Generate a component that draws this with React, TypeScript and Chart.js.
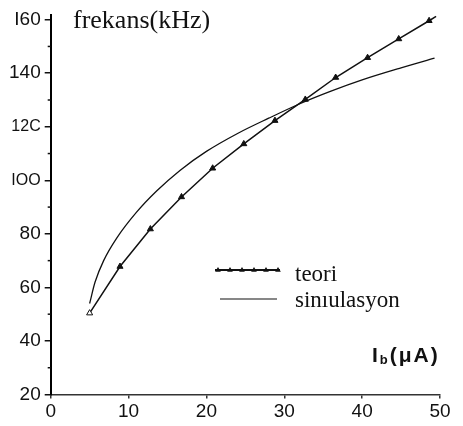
import React, { useEffect, useRef } from "react";
import { Chart, registerables } from "chart.js";

Chart.register(...registerables);

// teori (theory) series, triangle markers; last point = end of drawn line (no marker)
const TEORI_X = [5, 8.9, 12.8, 16.8, 20.8, 24.8, 28.8, 32.7, 36.6, 40.7, 44.7, 48.6, 49.5];
const TEORI_Y = [50.4, 67.8, 81.8, 93.8, 104.5, 113.6, 122.3, 130.2, 138.4, 145.8, 152.8, 159.6, 161.2];

// sinıulasyon (simulation) series, plain curve
const SIM_X = [5, 5.7, 6.8, 8.5, 11, 13.6, 16.6, 20, 24, 28, 32, 36, 40, 45, 49.3];
const SIM_Y = [54, 62, 70, 78.5, 88, 96, 103.7, 110.8, 117.5, 123.2, 128.6, 133.3, 137.5, 142, 145.6];

const X_TICKS = [0, 10, 20, 30, 40, 50];
const X_TICK_LABELS = ["0", "10", "20", "30", "40", "50"];
const Y_TICKS = [20, 40, 60, 80, 100, 120, 140, 160];
const Y_TICK_LABELS = ["20", "40", "60", "80", "IOO", "12C", "140", "I60"];
const Y_MINOR = [30, 50, 70, 90, 110, 130, 150];

const TITLE = "frekans(kHz)";
const LEGEND = ["teori", "sinıulasyon"];
const X_TITLE_MAIN = "I";
const X_TITLE_SUB = "b";
const X_TITLE_REST = "(μA)";

const SANS = "'Liberation Sans', Arial, Helvetica, sans-serif";
const SERIF = "'Liberation Serif', 'Times New Roman', serif";
const INK = "#111";

function tri(ctx: CanvasRenderingContext2D, x: number, y: number, r: number) {
  ctx.beginPath();
  ctx.moveTo(x, y - r);
  ctx.lineTo(x + r * 0.95, y + r * 0.6);
  ctx.lineTo(x - r * 0.95, y + r * 0.6);
  ctx.closePath();
  ctx.fill();
}

const decorPlugin = {
  id: "decor",
  afterDraw(chart: any) {
    const ctx: any = chart.ctx;
    const ys = chart.scales.y;
    const left = chart.chartArea.left;
    ctx.save();
    // minor y ticks
    ctx.strokeStyle = INK;
    ctx.lineWidth = 1.5;
    for (const v of Y_MINOR) {
      const y = ys.getPixelForValue(v);
      ctx.beginPath();
      ctx.moveTo(left - 3, y);
      ctx.lineTo(left, y);
      ctx.stroke();
    }
    // title
    ctx.fillStyle = INK;
    ctx.textBaseline = "alphabetic";
    ctx.textAlign = "left";
    ctx.font = `26px ${SERIF}`;
    ctx.fillText(TITLE, 73, 28);
    // legend
    ctx.lineWidth = 2;
    ctx.beginPath();
    ctx.moveTo(215, 270);
    ctx.lineTo(280, 270);
    ctx.stroke();
    for (let i = 0; i < 6; i++) tri(ctx, 218 + i * 12, 270, 3);
    ctx.lineWidth = 1.2;
    ctx.beginPath();
    ctx.moveTo(220, 299);
    ctx.lineTo(277, 299);
    ctx.stroke();
    ctx.font = `23px ${SERIF}`;
    ctx.fillText(LEGEND[0], 295, 281);
    ctx.fillText(LEGEND[1], 295, 307);
    // x-axis title
    ctx.letterSpacing = "2px";
    ctx.font = `bold 21px ${SANS}`;
    let x = 372;
    ctx.fillText(X_TITLE_MAIN, x, 362);
    x += ctx.measureText(X_TITLE_MAIN).width;
    ctx.font = `bold 13px ${SANS}`;
    ctx.fillText(X_TITLE_SUB, x, 364);
    x += ctx.measureText(X_TITLE_SUB).width;
    ctx.font = `bold 21px ${SANS}`;
    ctx.fillText(X_TITLE_REST, x, 362);
    ctx.letterSpacing = "0px";
    ctx.restore();
  },
};

export default function App() {
  const ref = useRef<HTMLCanvasElement | null>(null);
  useEffect(() => {
    if (!ref.current) return;
    const teori = TEORI_X.map((x, i) => ({ x, y: TEORI_Y[i] }));
    const sim = SIM_X.map((x, i) => ({ x, y: SIM_Y[i] }));
    const n = teori.length;
    const chart = new Chart(ref.current, {
      type: "line",
      data: {
        datasets: [
          {
            label: LEGEND[0],
            data: teori,
            borderColor: INK,
            borderWidth: 1.5,
            pointStyle: "triangle",
            pointRadius: teori.map((_, i) => (i === n - 1 ? 0 : 3.5)),
            pointBackgroundColor: teori.map((_, i) => (i === 0 ? "#fff" : INK)),
            pointBorderColor: INK,
            pointBorderWidth: 1,
            tension: 0,
          },
          {
            label: LEGEND[1],
            data: sim,
            borderColor: INK,
            borderWidth: 1.3,
            pointRadius: 0,
            cubicInterpolationMode: "monotone",
          },
        ],
      },
      options: {
        animation: false,
        responsive: false,
        maintainAspectRatio: false,
        events: [],
        layout: { padding: { top: 10, right: 23, left: 0, bottom: 0 } },
        plugins: { legend: { display: false }, tooltip: { enabled: false }, title: { display: false } },
        scales: {
          x: {
            type: "linear",
            min: 0,
            max: 50,
            afterFit(s: any) {
              s.height = 31.5;
            },
            afterBuildTicks(s: any) {
              s.ticks = X_TICKS.map((v) => ({ value: v }));
            },
            ticks: {
              callback: (v: any) => X_TICK_LABELS[X_TICKS.indexOf(Number(v))],
              font: { family: SANS, size: 19 },
              color: INK,
              padding: 2,
              maxRotation: 0,
              autoSkip: false,
            },
            grid: { drawOnChartArea: false, tickLength: 4, color: "#333", lineWidth: 1.5 },
            border: { color: "#333", width: 1.5 },
          },
          y: {
            type: "linear",
            min: 20,
            max: 161.6,
            afterFit(s: any) {
              s.width = 50.7;
            },
            afterBuildTicks(s: any) {
              s.ticks = Y_TICKS.map((v) => ({ value: v }));
            },
            ticks: {
              callback: (v: any) => Y_TICK_LABELS[Y_TICKS.indexOf(Number(v))],
              font: (c: any) => ({
                family: SANS,
                size: c.tick && (c.tick.value === 100 || c.tick.value === 120) ? 16 : 19,
              }),
              color: INK,
              padding: 4,
              autoSkip: false,
            },
            grid: { drawOnChartArea: false, tickLength: 6, color: INK, lineWidth: 1.5 },
            border: { color: "#000", width: 2 },
          },
        },
      },
      plugins: [decorPlugin],
    } as any);
    return () => chart.destroy();
  }, []);
  return (
    <div style={{ position: "fixed", left: 0, top: 0, width: 463, height: 426, background: "#fff" }}>
      <canvas ref={ref} width={463} height={426} style={{ width: 463, height: 426, display: "block" }} />
    </div>
  );
}
